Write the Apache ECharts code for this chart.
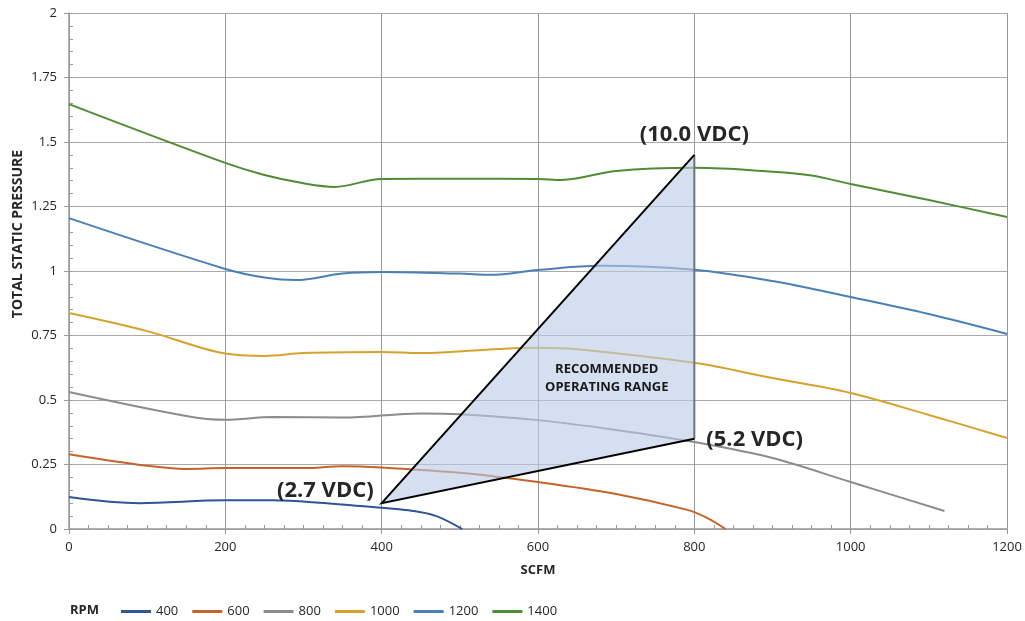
<!DOCTYPE html>
<html>
<head>
<meta charset="utf-8">
<script src="https://cdn.jsdelivr.net/npm/echarts@6/dist/echarts.min.js"></script>
<style>
  html, body { margin: 0; padding: 0; background: #fff; }
  #chart { width: 1025px; height: 621px; }
</style>
</head>
<body>
<div id="chart"></div>
<script>
// Fan curves, SCFM vs total static pressure
const rpmNames = ['400', '600', '800', '1000', '1200', '1400'];
const rpmColors = ['#2f5597', '#c5642a', '#8c8c8c', '#d6a22b', '#4a80b8', '#508c34'];

const scfm400 = [0, 90, 200, 260, 320, 400, 440, 470, 503];
const psi400 = [0.124, 0.100, 0.111, 0.111, 0.102, 0.082, 0.070, 0.050, 0];

const scfm600 = [0, 100, 150, 200, 300, 350, 400, 500, 600, 700, 790, 815, 840];
const psi600 = [0.290, 0.245, 0.233, 0.236, 0.236, 0.243, 0.238, 0.218, 0.182, 0.136, 0.075, 0.045, 0];

const scfm800 = [0, 150, 200, 260, 350, 450, 500, 600, 700, 800, 900, 1000, 1120];
const psi800 = [0.531, 0.438, 0.423, 0.434, 0.432, 0.448, 0.445, 0.422, 0.384, 0.337, 0.275, 0.182, 0.070];

const scfm1000 = [0, 100, 200, 250, 300, 400, 450, 550, 600, 650, 800, 900, 1000, 1100, 1200];
const psi1000 = [0.837, 0.767, 0.680, 0.671, 0.682, 0.686, 0.682, 0.698, 0.703, 0.697, 0.644, 0.585, 0.527, 0.442, 0.353];

const scfm1200 = [0, 200, 250, 290, 350, 400, 500, 540, 600, 680, 800, 900, 1000, 1100, 1200];
const psi1200 = [1.205, 1.008, 0.975, 0.965, 0.990, 0.996, 0.990, 0.985, 1.004, 1.020, 1.005, 0.961, 0.899, 0.833, 0.756];

const scfm1400 = [0, 200, 250, 300, 340, 400, 500, 600, 630, 700, 800, 900, 950, 1000, 1100, 1200];
const psi1400 = [1.647, 1.419, 1.372, 1.340, 1.326, 1.357, 1.358, 1.357, 1.353, 1.388, 1.400, 1.385, 1.370, 1.337, 1.275, 1.209];

// recommended operating range triangle: (2.7 VDC), (10.0 VDC), (5.2 VDC)
const rangeScfm = [400, 800, 800];
const rangePressure = [0.10, 1.45, 0.35];
const rangeLabels = ['(2.7 VDC)', '(10.0 VDC)', '(5.2 VDC)'];
const rangeTitle = 'RECOMMENDED\nOPERATING RANGE';
const rangeTitleAt = [688, 0.585];

const scfmSets = [scfm400, scfm600, scfm800, scfm1000, scfm1200, scfm1400];
const psiSets = [psi400, psi600, psi800, psi1000, psi1200, psi1400];

const FONT = '"Open Sans", "Liberation Sans", sans-serif';
const grid = { left: 69, right: 18, top: 13, bottom: 92 };

const curveSeries = rpmNames.map((name, i) => ({
    name: name,
    type: 'line',
    xAxisIndex: 0,
    yAxisIndex: 0,
    smooth: 0.35,
    showSymbol: false,
    symbol: 'none',
    z: 2,
    lineStyle: { width: 2, color: rpmColors[i] },
    itemStyle: { color: rpmColors[i] },
    data: scfmSets[i].map((x, k) => [x, psiSets[i][k]])
}));

const rangeSeries = {
    type: 'custom',
    xAxisIndex: 0,
    yAxisIndex: 0,
    z: 5,
    silent: true,
    encode: { x: [0, 2, 4], y: [1, 3, 5] },
    data: [[rangeScfm[0], rangePressure[0], rangeScfm[1], rangePressure[1], rangeScfm[2], rangePressure[2]]],
    renderItem: function (params, api) {
        const a = api.coord([api.value(0), api.value(1)]);
        const b = api.coord([api.value(2), api.value(3)]);
        const c = api.coord([api.value(4), api.value(5)]);
        const t = api.coord(rangeTitleAt);
        const labelFont = 'bold 22px ' + FONT;
        return {
            type: 'group',
            children: [
                { type: 'polygon', shape: { points: [a, b, c] },
                  style: { fill: 'rgba(185,202,230,0.6)', stroke: null } },
                { type: 'line', shape: { x1: b[0], y1: b[1], x2: c[0], y2: c[1] },
                  style: { stroke: '#6d7480', lineWidth: 2 } },
                { type: 'polyline', shape: { points: [c, a, b] },
                  style: { stroke: '#000', lineWidth: 2, fill: null } },
                { type: 'text', style: { text: rangeLabels[0], x: a[0] - 8, y: a[1] - 12,
                  font: labelFont, fill: '#262626', textAlign: 'right', textVerticalAlign: 'middle',
                  align: 'right', verticalAlign: 'middle' } },
                { type: 'text', style: { text: rangeLabels[1], x: b[0], y: b[1] - 20,
                  font: labelFont, fill: '#262626', textAlign: 'center', textVerticalAlign: 'middle',
                  align: 'center', verticalAlign: 'middle' } },
                { type: 'text', style: { text: rangeLabels[2], x: c[0] + 12, y: c[1] + 1,
                  font: labelFont, fill: '#262626', textAlign: 'left', textVerticalAlign: 'middle',
                  align: 'left', verticalAlign: 'middle' } },
                { type: 'text', style: { text: rangeTitle, x: t[0], y: t[1],
                  font: 'bold 13px ' + FONT, lineHeight: 18, fill: '#1a1a1a', textAlign: 'center',
                  textVerticalAlign: 'middle', align: 'center', verticalAlign: 'middle' } }
            ]
        };
    }
};

const chart = echarts.init(document.getElementById('chart'), null, { renderer: 'canvas' });

const option = {
    backgroundColor: '#fff',
    animation: false,
    textStyle: { fontFamily: FONT },
    grid: [grid],
    graphic: [{
        type: 'text', left: 70, top: 604,
        style: { text: 'RPM', font: 'bold 13px ' + FONT, fill: '#262626' }
    }, {
        // y axis title sits a bit above the middle of the axis
        type: 'text', x: 18, y: 234, rotation: Math.PI / 2,
        style: { text: 'TOTAL STATIC PRESSURE', font: 'bold 14px ' + FONT, fill: '#262626',
                 textAlign: 'center', textVerticalAlign: 'middle', align: 'center', verticalAlign: 'middle' }
    }],
    legend: {
        data: rpmNames,
        left: 121,
        top: 605,
        padding: 0,
        icon: 'rect',
        itemWidth: 30,
        itemHeight: 3,
        itemGap: 14,
        textStyle: { fontFamily: FONT, fontSize: 13, color: '#262626' }
    },
    xAxis: [{
        type: 'value',
        position: 'bottom',
        min: 0, max: 1200, interval: 200,
        name: 'SCFM',
        nameLocation: 'middle',
        nameGap: 35,
        nameTextStyle: { fontWeight: 'bold', fontSize: 13, color: '#262626', fontFamily: FONT },
        axisLine: { show: true, lineStyle: { color: '#999', width: 1.5 } },
        axisTick: { show: true, length: 5, lineStyle: { color: '#999' } },
        axisLabel: { color: '#262626', fontSize: 13, margin: 12, formatter: v => String(v) },
        splitLine: { show: true, lineStyle: { color: '#999', width: 1 } }
    }, {
        type: 'value',
        position: 'bottom',
        min: 0, max: 1200, interval: 25,
        axisLine: { show: false },
        axisTick: { show: true, inside: true, length: 4, lineStyle: { color: '#999' } },
        axisLabel: { show: false },
        splitLine: { show: false }
    }],
    yAxis: [{
        type: 'value',
        position: 'left',
        min: 0, max: 2, interval: 0.25,
        axisLine: { show: true, lineStyle: { color: '#999', width: 1.5 } },
        axisTick: { show: true, length: 5, lineStyle: { color: '#999' } },
        axisLabel: { color: '#262626', fontSize: 13, margin: 12 },
        splitLine: { show: true, lineStyle: { color: '#aaa', width: 1 } }
    }, {
        type: 'value',
        position: 'left',
        min: 0, max: 2, interval: 0.05,
        axisLine: { show: false },
        axisTick: { show: true, inside: true, length: 4, lineStyle: { color: '#999' } },
        axisLabel: { show: false },
        splitLine: { show: false }
    }],
    series: curveSeries.concat([rangeSeries])
};

chart.setOption(option);
window.addEventListener('resize', () => chart.resize());
</script>
</body>
</html>
